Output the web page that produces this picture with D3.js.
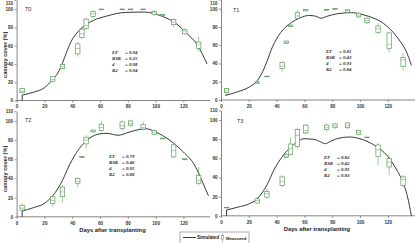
<!DOCTYPE html>
<html>
<head>
<meta charset="utf-8">
<script src="https://cdn.jsdelivr.net/npm/d3@7"></script>
<style>
  body { margin: 0; background: #fff; }
  svg { display: block; }
</style>
</head>
<body>
<div id="chart"></div>
<script>
// measurement days (days after transplanting)
const days = [4, 26, 33, 44, 47, 50, 55, 61, 76, 82, 91, 99, 105, 113, 121, 131];
const xTicks = [0, 20, 40, 60, 80, 100, 120];
const yTicks = [0, 20, 40, 60, 80, 100, 110];
const panelNames = ["T0", "T1", "T2", "T3"];

// measured boxes: [min, q1, median, q3, max]
const boxT0 = [[8,8.5,10,13,13.5],[20,21,23,26,27],[34,35,37,39.5,40.5],[48,51,57,62,64],
  [67,69,73,78,80],[77,79,82,89,91],[90,92,95,97.5,98.5],[100,100,100,100,100],
  [100,100,100,100,100],[100,100,100,100,100],[100,100,100,100,100],[92.5,94,96,97.5,99],
  [92.5,93,93.5,94,94.5],[80,83,86,88.5,90],[72,73,76,77.5,79],[53.5,57,61,64,70]];
const boxT1 = [[5.5,8,10,12.5,13],[17.5,18,19,20,20.5],[25.5,26,26,26,26.5],[31,34.5,37,41,42.5],
  [61.5,62,63,64.5,65],[80,80.5,81,82,82.5],[88.5,89.5,92,95.5,99],[97,97.5,98.5,99,99.5],
  [98,98.5,98.8,99,99.5],[99,99.3,99.6,100,100.3],[95.5,96,97.8,98.8,99.5],[89.5,91,93,95,96.5],
  [83,84.5,87,89.5,91],[72,74,78,81,84],[52,56.5,61,73.5,75],[32,36.5,44,46.5,51]];
const boxT2 = [[5,7,9,12,14],[10.5,14,17,21,22.5],[15,21,26,31,33],[31,35,37,40,41.5],
  [61.5,62,62.5,63,63.5],[71,76,80,83,85],[88,88.5,89,90.5,91],[88.5,90,93,96.5,100],
  [90,92,95,99,100.5],[94,95.5,97,100,101.5],[90,91.5,93,96,99.5],[85,86,88,90,91],
  [81,81.3,81.6,82,82.2],[61,62.5,69,75,76],[59,59.5,60,60.5,61],[33,35,38,43,52]];
const boxT3 = [[8,8.3,8.6,8.9,9.2],[12.4,13.4,16,17.7,19.4],[17.7,19.4,23,25.4,28],[30,31.8,36,40.6,42.4],
  [60,60.8,62,64,65],[63,64.3,70,75,82],[70.7,72.4,84,90,92],[85,86.6,89,94.7,96],
  [88,90,92,94.7,96.5],[90.5,92,94,96,97],[90.5,92,94,97,98],[84,85,87,89,90],
  [81.6,81.8,82,82.2,82.4],[53,62,69,74,76],[42.4,51,56,60,63.6],[30,31.8,38,40.6,42.4]];

// simulated canopy cover [day, value]
const simT0 = [[4,0],[4,6],[12,9],[20,14],[26,23],[30,31],[33,41],[36,53],[39,64],[44,75],
  [50,83],[55,87.5],[65,92.5],[79,96.5],[92,96.8],[98,95.5],[105,92],[115,84],[122,74],
  [130,61],[137,40]];
const simT1 = [[3,5],[12,9],[20,13.9],[26,21],[30,31],[33,42],[37,58],[40,67],[43,74],[50,84],
  [57,90],[63,92.5],[68,91.8],[72,89.5],[76,91.5],[84,94.5],[94,95.6],[103,93],[110,89.5],
  [115,85.8],[122,77],[129,64],[133,54],[137,38]];
const simT2 = [[4,0],[4,6],[12,9.5],[20,14],[26,22],[30,30],[33,38],[38,54],[45,71],[52,81.5],
  [60,86.5],[65,87],[69,86],[73,85],[80,87.8],[88,91],[93,91.8],[100,88.5],[110,80],
  [120,67.5],[128,54],[132,42],[135,32],[138,22]];
const simT3 = [[4,0],[4,6],[12,9],[20,12.4],[26,17.7],[30,25],[33,32],[38,47.7],[45,63.5],
  [52,74],[60,80.5],[67,79.8],[72,77],[75,75.3],[79,78],[84,80.8],[92,82.3],[100,80.5],
  [110,74],[120,62],[126,49],[130,38],[134,21],[137,0]];

// goodness of fit
const statNames = ["EF", "RSR", "d", "R2"];
const statT0 = ["0.94", "0.25", "0.98", "0.94"];
const statT1 = ["0.81", "0.43", "0.93", "0.84"];
const statT2 = ["0.79", "0.46", "0.95", "0.88"];
const statT3 = ["0.82", "0.42", "0.95", "0.83"];

const W = 415, H = 243;
const green = "#5f9e5f";
const axisCol = "#666";

const svg = d3.select("#chart").append("svg")
  .attr("width", W).attr("height", H)
  .style("font-family", "'Liberation Sans', Arial, sans-serif");

const layout = [
  { x0: 16.6, y0: 100.5, y1: 0, xEnd: 210, statX: 112, statY: 54, tagX: 25, tagY: 11, ylab: true, xlab: false },
  { x0: 221, y0: 100, y1: -0.5, xEnd: 415, statX: 326, statY: 53, tagX: 233, tagY: 12, ylab: false, xlab: false },
  { x0: 16.6, y0: 216.8, y1: 111.3, xEnd: 210, statX: 109, statY: 158, tagX: 25, tagY: 122, ylab: true, xlab: true },
  { x0: 221, y0: 215.8, y1: 110.5, xEnd: 415, statX: 324, statY: 159, tagX: 237, tagY: 123, ylab: false, xlab: true }
];
const boxes = [boxT0, boxT1, boxT2, boxT3];
const sims = [simT0, simT1, simT2, simT3];
const stats = [statT0, statT1, statT2, statT3];

layout.forEach(function (p, i) {
  const x = d3.scaleLinear().domain([0, 138]).range([p.x0, p.x0 + 1.39 * 138]);
  const y = d3.scaleLinear().domain([0, 110]).range([p.y0, p.y1]);
  const g = svg.append("g");

  // axes
  const xAxis = g.append("g")
    .attr("transform", `translate(0,${p.y0})`)
    .call(d3.axisBottom(x).tickValues(xTicks).tickSize(2).tickSizeOuter(0));
  xAxis.select(".domain").attr("d", `M${p.x0},0H${p.xEnd}`);
  const yAxis = g.append("g")
    .attr("transform", `translate(${p.x0},0)`)
    .call(d3.axisLeft(y).tickValues(yTicks).tickSize(2).tickSizeOuter(0));

  [xAxis, yAxis].forEach(function (a) {
    a.select(".domain").attr("stroke", axisCol).attr("stroke-width", 0.8);
    a.selectAll(".tick line").attr("stroke", axisCol).attr("stroke-width", 0.7);
    a.selectAll(".tick text")
      .attr("fill", "#333").attr("font-size", "4.6px").attr("font-weight", "bold")
      .attr("font-family", "'Liberation Sans', Arial, sans-serif");
  });
  xAxis.selectAll(".tick text").attr("y", 4.5);
  yAxis.selectAll(".tick text").attr("x", -3.5);
  // keep the top label inside the frame
  yAxis.selectAll(".tick text").filter(d => y(d) < 2).attr("dy", "1.0em");

  // panel tag
  g.append("text").attr("x", p.tagX).attr("y", p.tagY)
    .attr("font-size", "5.5px").attr("fill", "#333").text(panelNames[i]);

  // simulated line
  const sim = sims[i];
  const line = d3.line().x(d => x(d[0])).y(d => y(d[1]));
  let start = 0;
  if (sim[0][0] === sim[1][0]) {
    g.append("path").datum(sim.slice(0, 2)).attr("d", line)
      .attr("fill", "none").attr("stroke", "#222").attr("stroke-width", 0.9);
    start = 1;
  }
  g.append("path").datum(sim.slice(start))
    .attr("d", line.curve(d3.curveMonotoneX))
    .attr("fill", "none").attr("stroke", "#222").attr("stroke-width", 0.9);

  // measured boxes
  const bw = 4.4;
  const bx = g.selectAll("g.box").data(boxes[i].map((b, k) => ({ day: days[k], b: b })))
    .enter().append("g").attr("class", "box");
  bx.append("line")
    .attr("x1", d => x(d.day)).attr("x2", d => x(d.day))
    .attr("y1", d => y(d.b[0])).attr("y2", d => y(d.b[4]))
    .attr("stroke", green).attr("stroke-width", 0.6);
  bx.append("rect")
    .attr("x", d => x(d.day) - bw / 2).attr("width", bw)
    .attr("y", d => y(d.b[3])).attr("height", d => Math.max(0.6, y(d.b[1]) - y(d.b[3])))
    .attr("fill", "#fff").attr("stroke", green).attr("stroke-width", 0.7);
  bx.append("line")
    .attr("x1", d => x(d.day) - bw / 2).attr("x2", d => x(d.day) + bw / 2)
    .attr("y1", d => y(d.b[2])).attr("y2", d => y(d.b[2]))
    .attr("stroke", green).attr("stroke-width", 0.5);

  // stats block
  const st = g.append("g")
    .attr("font-family", "'Liberation Serif', 'Times New Roman', serif")
    .attr("font-style", "italic").attr("font-weight", "bold")
    .attr("font-size", "4.8px").attr("fill", "#222");
  statNames.forEach(function (n, k) {
    st.append("text").attr("x", p.statX).attr("y", p.statY + k * 6).text(n);
    st.append("text").attr("x", p.statX + 13).attr("y", p.statY + k * 6).text("= " + stats[i][k]);
  });

  // axis titles
  if (p.ylab) {
    g.append("text")
      .attr("transform", `translate(6.5,${(p.y0 + y(100)) / 2}) rotate(-90)`)
      .attr("text-anchor", "middle").attr("font-size", "5.6px").attr("font-weight", "bold")
      .attr("fill", "#222").text("canopy cover (%)");
  }
  if (p.xlab) {
    g.append("text")
      .attr("x", x(69)).attr("y", p.y0 + 15)
      .attr("text-anchor", "middle").attr("font-size", "5.8px").attr("font-weight", "bold")
      .attr("fill", "#222").text("Days after transplanting");
  }
});

// legend
const lg = svg.append("g").attr("transform", "translate(180,232)");
lg.append("rect").attr("width", 69).attr("height", 14)
  .attr("fill", "#fff").attr("stroke", "#888").attr("stroke-width", 0.7);
lg.append("line").attr("x1", 3).attr("x2", 16).attr("y1", 5.5).attr("y2", 5.5)
  .attr("stroke", "#222").attr("stroke-width", 0.9);
lg.append("text").attr("x", 17).attr("y", 7.3).attr("font-size", "4.6px")
  .attr("font-weight", "bold").attr("fill", "#222").text("Simulated");
lg.append("line").attr("x1", 42.5).attr("x2", 42.5).attr("y1", 1.5).attr("y2", 10)
  .attr("stroke", green).attr("stroke-width", 0.6);
lg.append("rect").attr("x", 41.5).attr("y", 3.5).attr("width", 2).attr("height", 4)
  .attr("fill", "#fff").attr("stroke", green).attr("stroke-width", 0.6);
lg.append("text").attr("x", 46).attr("y", 7.6).attr("font-size", "4.4px")
  .attr("font-weight", "bold").attr("fill", "#222").text("Measured");
</script>
</body>
</html>
